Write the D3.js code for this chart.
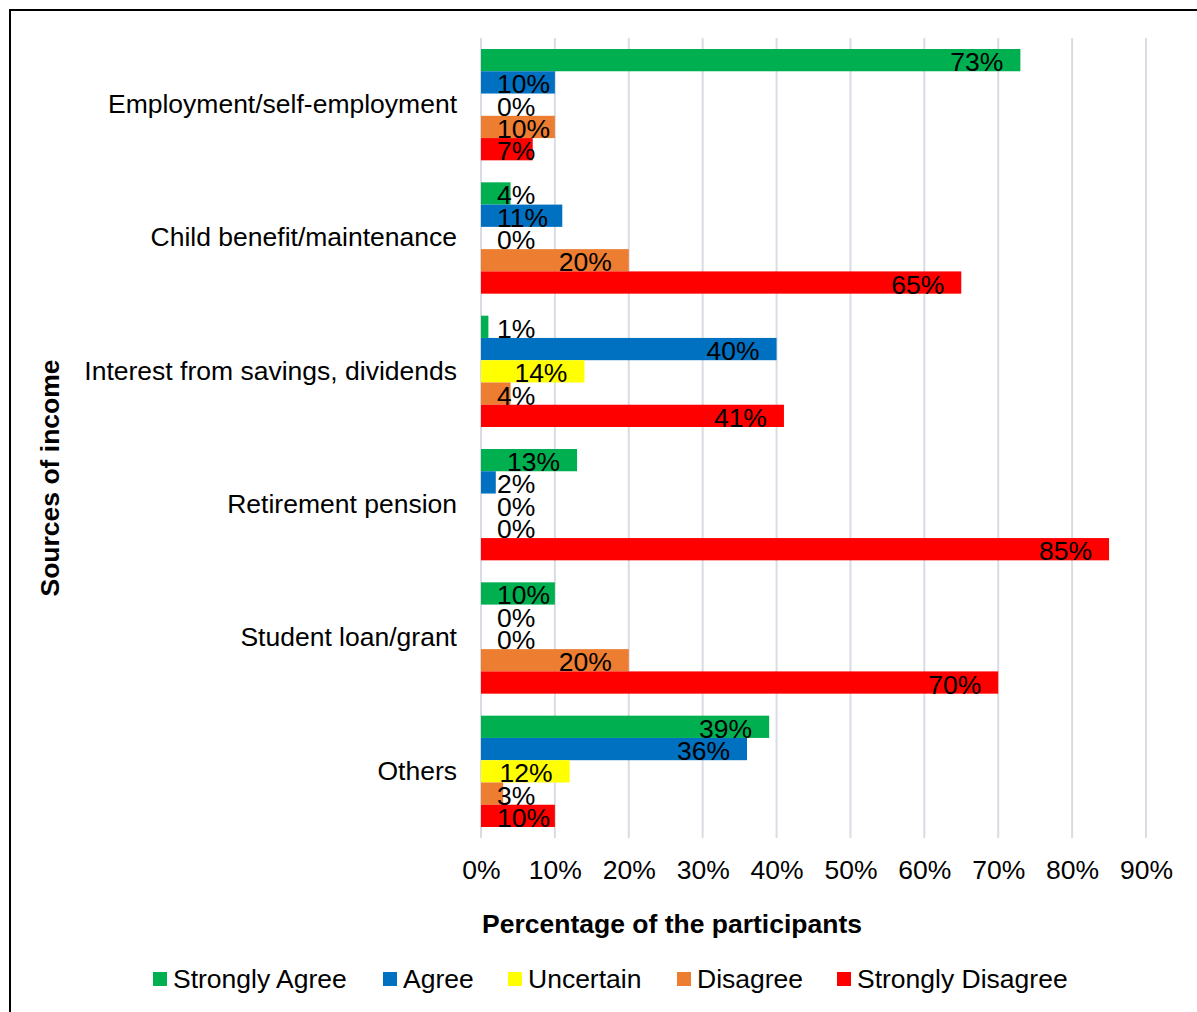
<!DOCTYPE html>
<html>
<head>
<meta charset="utf-8">
<script src="https://cdn.jsdelivr.net/npm/d3@7/dist/d3.min.js"></script>
<style>
  html, body { margin: 0; padding: 0; background: #fff; }
  svg { display: block; font-family: "Liberation Sans", Arial, sans-serif; }
</style>
</head>
<body>
<svg id="chart" width="1197" height="1012"></svg>
<script>
// Sources of income and agreement levels
const categories = [
  "Employment/self-employment",
  "Child benefit/maintenance",
  "Interest from savings, dividends",
  "Retirement pension",
  "Student loan/grant",
  "Others"
];
const seriesNames = ["Strongly Agree", "Agree", "Uncertain", "Disagree", "Strongly Disagree"];
const seriesColors = ["#00B050", "#0070C0", "#FFFF00", "#ED7D31", "#FF0000"];

const stronglyAgree    = [73, 4, 1, 13, 10, 39];
const agree            = [10, 11, 40, 2, 0, 36];
const uncertain        = [0, 0, 14, 0, 0, 12];
const disagree         = [10, 20, 4, 0, 20, 3];
const stronglyDisagree = [7, 65, 41, 85, 70, 10];
const seriesValues = [stronglyAgree, agree, uncertain, disagree, stronglyDisagree];

const xTicks = [0, 10, 20, 30, 40, 50, 60, 70, 80, 90];

const FONT = 26.5;
const svg = d3.select("#chart");

// frame
svg.append("rect")
  .attr("x", 10).attr("y", 10)
  .attr("width", 1300).attr("height", 1100)
  .attr("fill", "none").attr("stroke", "#000").attr("stroke-width", 2);

const plot = { left: 481, right: 1146, top: 38, bottom: 838 };

const x = d3.scaleLinear().domain([0, 90]).range([plot.left, plot.right]);
const y0 = d3.scaleBand().domain(categories).range([plot.top, plot.bottom])
  .paddingInner(0.165).paddingOuter(0.0825);
const y1 = d3.scaleBand().domain(seriesNames).range([0, y0.bandwidth()]).padding(0);

// gridlines
svg.append("g")
  .selectAll("line")
  .data(xTicks)
  .join("line")
  .attr("x1", d => x(d)).attr("x2", d => x(d))
  .attr("y1", plot.top).attr("y2", plot.bottom)
  .attr("stroke", "#D9DCE3").attr("stroke-width", 2);

// x axis tick labels
const xAxis = d3.axisBottom(x).tickValues(xTicks).tickFormat(d => d + "%").tickSize(0).tickPadding(0);
const xg = svg.append("g").attr("transform", `translate(0,${plot.bottom})`).call(xAxis);
xg.select(".domain").remove();
xg.selectAll("text")
  .attr("font-size", FONT)
  .attr("font-family", "Liberation Sans, Arial, sans-serif")
  .attr("fill", "#000")
  .attr("dy", null)
  .attr("y", 41);

// category labels
const yAxis = d3.axisLeft(y0).tickSize(0).tickPadding(0);
const yg = svg.append("g").attr("transform", `translate(457,0)`).call(yAxis);
yg.select(".domain").remove();
yg.selectAll("text")
  .attr("font-size", FONT)
  .attr("font-family", "Liberation Sans, Arial, sans-serif")
  .attr("fill", "#000");

// bars
const rows = [];
categories.forEach((c, ci) => {
  seriesNames.forEach((s, si) => {
    rows.push({ cat: c, series: s, value: seriesValues[si][ci], color: seriesColors[si] });
  });
});

const bars = svg.append("g");
bars.selectAll("rect")
  .data(rows)
  .join("rect")
  .attr("x", x(0))
  .attr("y", d => y0(d.cat) + y1(d.series))
  .attr("width", d => x(d.value) - x(0))
  .attr("height", y1.bandwidth())
  .attr("fill", d => d.color);

// data labels, inside the bar end
const labels = svg.append("g");
labels.selectAll("text")
  .data(rows)
  .join("text")
  .attr("font-size", FONT)
  .attr("fill", "#000")
  .attr("text-anchor", "end")
  .attr("dominant-baseline", "central")
  .attr("y", d => y0(d.cat) + y1(d.series) + y1.bandwidth() / 2 + 2)
  .text(d => d.value + "%")
  .attr("x", function(d) {
    const w = this.getComputedTextLength();
    return Math.max(x(d.value) - 17, x(0) + 16 + w);
  });

// axis titles
svg.append("text")
  .attr("x", 672)
  .attr("y", 933)
  .attr("font-size", FONT).attr("font-weight", "bold")
  .attr("fill", "#000")
  .attr("text-anchor", "middle")
  .text("Percentage of the participants");

svg.append("text")
  .attr("transform", `translate(59,478) rotate(-90)`)
  .attr("font-size", FONT).attr("font-weight", "bold")
  .attr("fill", "#000")
  .attr("text-anchor", "middle")
  .text("Sources of income");

// legend
const legendX = [153, 383, 508, 677, 837];
const legend = svg.append("g");
const items = legend.selectAll("g")
  .data(seriesNames)
  .join("g")
  .attr("transform", (d, i) => `translate(${legendX[i]},972)`);
items.append("rect")
  .attr("width", 14).attr("height", 14)
  .attr("fill", (d, i) => seriesColors[i]);
items.append("text")
  .attr("x", 20).attr("y", 7)
  .attr("dominant-baseline", "central")
  .attr("font-size", FONT)
  .attr("fill", "#000")
  .text(d => d);
</script>
</body>
</html>
